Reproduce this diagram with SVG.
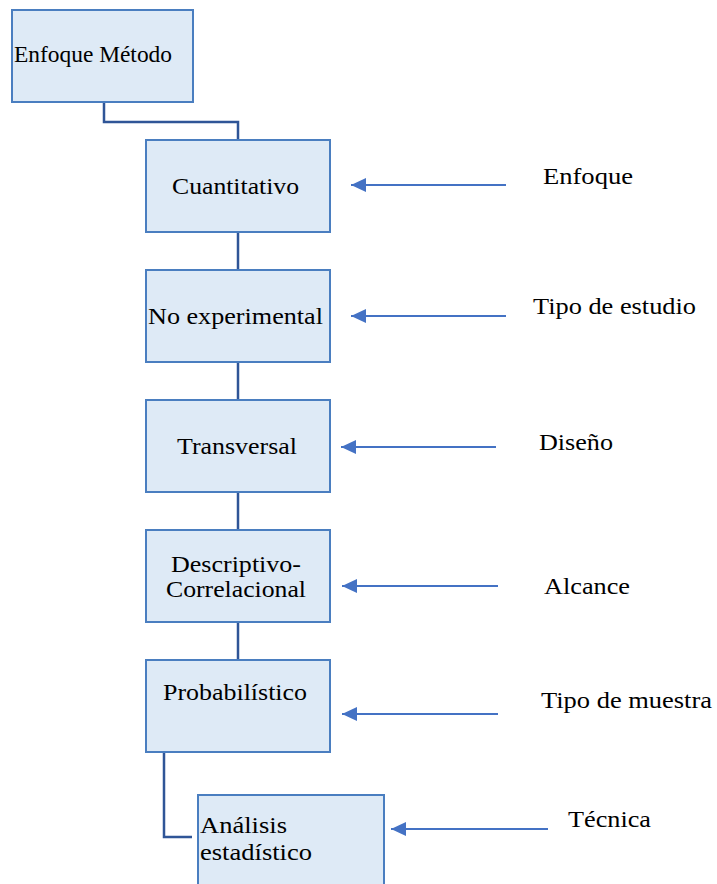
<svg xmlns="http://www.w3.org/2000/svg" width="717" height="884" viewBox="0 0 717 884">
<defs>
<style>
.box{fill:#DEEAF6;stroke:#4A7EC0;stroke-width:2}
.t{font-family:'Liberation Serif',serif;font-size:24px;fill:#000}
.conn{fill:none;stroke:#2F5597;stroke-width:2.5}
.arr{fill:none;stroke:#4472C4;stroke-width:2;marker-end:url(#ah)}
</style>
<marker id="ah" markerUnits="userSpaceOnUse" markerWidth="16" markerHeight="14" refX="15" refY="7" orient="auto">
<path d="M0,0 L15,7 L0,14 Z" fill="#4472C4"/>
</marker>
</defs>
<rect width="717" height="884" fill="#fff"/>
<g id="connectors">
<path class="conn" d="M104,102 V122 H238 V140"/>
<path class="conn" d="M238,232 V270"/>
<path class="conn" d="M238,362 V400"/>
<path class="conn" d="M238,492 V530"/>
<path class="conn" d="M238,622 V660"/>
<path class="conn" d="M164,752 V837 H192"/>
<path class="arr" d="M506,185 H351"/>
<path class="arr" d="M506,316 H351"/>
<path class="arr" d="M496,447 H341"/>
<path class="arr" d="M498,586 H342"/>
<path class="arr" d="M498,714 H342"/>
<path class="arr" d="M548,829 H391"/>
</g>
<g font-family="Liberation Serif, serif">
<g id="n-enfoque-metodo">
<rect class="box" x="12" y="10" width="181" height="92"/>
<text class="t" x="14" y="62" textLength="158" lengthAdjust="spacingAndGlyphs">Enfoque Método</text>
</g>
<g id="n-cuantitativo">
<rect class="box" x="146" y="140" width="184" height="92"/>
<text class="t" x="172" y="194" textLength="127" lengthAdjust="spacingAndGlyphs">Cuantitativo</text>
</g>
<g id="n-no-experimental">
<rect class="box" x="146" y="270" width="184" height="92"/>
<text class="t" x="148" y="324" textLength="175" lengthAdjust="spacingAndGlyphs">No experimental</text>
</g>
<g id="n-transversal">
<rect class="box" x="146" y="400" width="184" height="92"/>
<text class="t" x="177" y="454" textLength="120" lengthAdjust="spacingAndGlyphs">Transversal</text>
</g>
<g id="n-descriptivo">
<rect class="box" x="146" y="530" width="184" height="92"/>
<text class="t" x="171" y="572" textLength="130" lengthAdjust="spacingAndGlyphs">Descriptivo-</text>
<text class="t" x="166" y="597" textLength="140" lengthAdjust="spacingAndGlyphs">Correlacional</text>
</g>
<g id="n-probabilistico">
<rect class="box" x="146" y="660" width="184" height="92"/>
<text class="t" x="163" y="700" textLength="144" lengthAdjust="spacingAndGlyphs">Probabilístico</text>
</g>
<g id="n-analisis">
<rect class="box" x="198" y="795" width="186" height="100"/>
<text class="t" x="200" y="833" textLength="87" lengthAdjust="spacingAndGlyphs">Análisis</text>
<text class="t" x="200" y="860" textLength="112" lengthAdjust="spacingAndGlyphs">estadístico</text>
</g>
<g id="labels">
<text class="t" x="543" y="184" textLength="90" lengthAdjust="spacingAndGlyphs">Enfoque</text>
<text class="t" x="533" y="314" textLength="163" lengthAdjust="spacingAndGlyphs">Tipo de estudio</text>
<text class="t" x="539" y="450" textLength="74" lengthAdjust="spacingAndGlyphs">Diseño</text>
<text class="t" x="544" y="594" textLength="86" lengthAdjust="spacingAndGlyphs">Alcance</text>
<text class="t" x="541" y="708" textLength="171" lengthAdjust="spacingAndGlyphs">Tipo de muestra</text>
<text class="t" x="568" y="827" textLength="83" lengthAdjust="spacingAndGlyphs">Técnica</text>
</g>
</g>
</svg>
